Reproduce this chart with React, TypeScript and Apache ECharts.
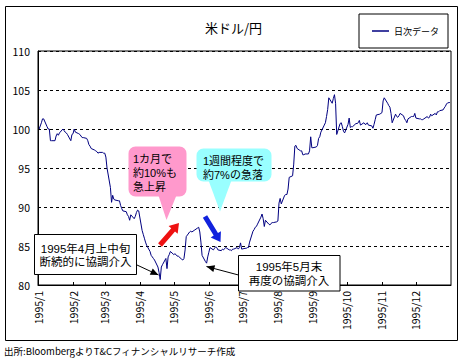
import React, { useEffect, useRef } from "react";
import * as echarts from "echarts";

// ---- data ----
const dates: string[] = [
  "1995-01-02","1995-01-04","1995-01-05","1995-01-06","1995-01-09","1995-01-10","1995-01-11","1995-01-12","1995-01-13","1995-01-16","1995-01-17","1995-01-18","1995-01-19","1995-01-20","1995-01-23","1995-01-24","1995-01-25","1995-01-26","1995-01-27","1995-01-30","1995-01-31",
  "1995-02-01","1995-02-02","1995-02-03","1995-02-06","1995-02-07","1995-02-08","1995-02-09","1995-02-10","1995-02-13","1995-02-14","1995-02-15","1995-02-16","1995-02-17","1995-02-20","1995-02-21","1995-02-22","1995-02-23","1995-02-24","1995-02-27","1995-02-28",
  "1995-03-01","1995-03-02","1995-03-03","1995-03-06","1995-03-07","1995-03-08","1995-03-09","1995-03-10","1995-03-13","1995-03-14","1995-03-15","1995-03-16","1995-03-17","1995-03-20","1995-03-21","1995-03-22","1995-03-23","1995-03-24","1995-03-27","1995-03-28","1995-03-29","1995-03-30","1995-03-31",
  "1995-04-03","1995-04-04","1995-04-05","1995-04-06","1995-04-07","1995-04-10","1995-04-11","1995-04-12","1995-04-13","1995-04-14","1995-04-17","1995-04-18","1995-04-19","1995-04-20","1995-04-21","1995-04-24","1995-04-25","1995-04-26","1995-04-27","1995-04-28",
  "1995-05-01","1995-05-02","1995-05-03","1995-05-04","1995-05-05","1995-05-08","1995-05-09","1995-05-10","1995-05-11","1995-05-12","1995-05-15","1995-05-16","1995-05-17","1995-05-18","1995-05-19","1995-05-22","1995-05-23","1995-05-24","1995-05-25","1995-05-26","1995-05-29","1995-05-30","1995-05-31",
  "1995-06-01","1995-06-02","1995-06-05","1995-06-06","1995-06-07","1995-06-08","1995-06-09","1995-06-12","1995-06-13","1995-06-14","1995-06-15","1995-06-16","1995-06-19","1995-06-20","1995-06-21","1995-06-22","1995-06-23","1995-06-26","1995-06-27","1995-06-28","1995-06-29","1995-06-30",
  "1995-07-03","1995-07-04","1995-07-05","1995-07-06","1995-07-07","1995-07-10","1995-07-11","1995-07-12","1995-07-13","1995-07-14","1995-07-17","1995-07-18","1995-07-19","1995-07-20","1995-07-21","1995-07-24","1995-07-25","1995-07-26","1995-07-27","1995-07-28","1995-07-31",
  "1995-08-01","1995-08-02","1995-08-03","1995-08-04","1995-08-07","1995-08-08","1995-08-09","1995-08-10","1995-08-11","1995-08-14","1995-08-15","1995-08-16","1995-08-17","1995-08-18","1995-08-21","1995-08-22","1995-08-23","1995-08-24","1995-08-25","1995-08-28","1995-08-29","1995-08-30","1995-08-31",
  "1995-09-01","1995-09-04","1995-09-05","1995-09-06","1995-09-07","1995-09-08","1995-09-11","1995-09-12","1995-09-13","1995-09-14","1995-09-15","1995-09-18","1995-09-19","1995-09-20","1995-09-21","1995-09-22","1995-09-25","1995-09-26","1995-09-27","1995-09-28","1995-09-29",
  "1995-10-02","1995-10-03","1995-10-04","1995-10-05","1995-10-06","1995-10-09","1995-10-10","1995-10-11","1995-10-12","1995-10-13","1995-10-16","1995-10-17","1995-10-18","1995-10-19","1995-10-20","1995-10-23","1995-10-24","1995-10-25","1995-10-26","1995-10-27","1995-10-30","1995-10-31",
  "1995-11-01","1995-11-02","1995-11-03","1995-11-06","1995-11-07","1995-11-08","1995-11-09","1995-11-10","1995-11-13","1995-11-14","1995-11-15","1995-11-16","1995-11-17","1995-11-20","1995-11-21","1995-11-22","1995-11-23","1995-11-24","1995-11-27","1995-11-28","1995-11-29","1995-11-30",
  "1995-12-01","1995-12-04","1995-12-05","1995-12-06","1995-12-07","1995-12-08","1995-12-11","1995-12-12","1995-12-13","1995-12-14","1995-12-15","1995-12-18","1995-12-19","1995-12-20","1995-12-21","1995-12-22","1995-12-25","1995-12-26","1995-12-27","1995-12-28","1995-12-29","1995-12-31",
];

const usdJpy: number[] = [
  100.0,100.8,101.3,101.3,100.3,100.0,100.0,98.5,98.5,98.5,99.1,99.4,99.2,99.5,100.0,99.8,99.6,99.5,99.3,98.5,99.3,
  99.4,100.0,99.6,99.4,99.3,99.1,98.9,98.9,98.8,98.5,98.0,97.8,97.5,97.3,97.2,97.1,96.9,97.0,97.0,96.9,
  96.9,96.4,95.0,92.5,90.6,91.5,91.0,90.9,90.8,90.8,90.2,89.8,89.5,89.4,89.0,88.8,88.3,89.0,88.5,88.8,89.3,89.6,89.5,
  87.0,86.5,86.0,85.5,85.1,84.3,83.8,83.6,83.4,83.2,82.3,81.6,80.7,82.3,82.6,83.4,82.1,83.6,83.9,84.3,
  83.9,84.0,83.9,83.7,83.7,83.3,83.2,83.4,84.5,86.2,86.8,86.9,86.8,86.9,87.0,87.3,87.4,86.8,85.5,83.8,83.0,82.8,83.6,
  84.2,84.8,84.5,84.7,84.9,84.8,84.5,84.4,84.6,84.5,84.7,84.8,84.5,84.5,84.4,84.6,84.6,84.8,84.6,84.8,85.4,84.6,
  84.7,84.7,84.8,84.8,85.5,86.9,87.1,87.4,87.5,87.8,88.7,89.1,88.5,87.5,88.3,87.8,87.7,87.9,88.0,88.0,88.1,
  88.2,90.5,91.1,90.4,91.5,91.6,91.6,92.3,93.8,94.0,95.5,97.8,97.9,97.5,97.2,97.2,96.7,96.7,96.8,96.8,97.2,99.0,97.6,
  97.6,97.7,97.9,98.8,99.0,99.6,100.5,100.8,101.6,102.5,104.0,103.3,103.9,104.4,103.3,99.3,100.7,100.8,100.3,99.7,99.5,
  100.6,101.4,100.2,100.3,100.3,100.7,100.7,100.8,101.1,100.5,100.8,100.6,100.6,100.8,100.5,100.4,100.1,100.6,101.2,101.8,101.9,102.0,
  102.1,103.6,104.0,103.3,103.0,102.8,102.0,100.8,101.9,101.6,101.5,101.7,102.0,101.7,101.3,101.1,100.8,101.3,101.6,101.6,101.6,102.0,
  101.4,101.3,101.3,101.2,101.2,101.3,101.6,101.4,101.5,101.9,101.7,102.0,101.8,102.2,102.2,102.35,102.45,102.7,102.9,103.2,103.35,103.4,
];

const monthTicks: string[] = [
  "1995-01-01","1995-02-01","1995-03-01","1995-04-01","1995-05-01","1995-06-01",
  "1995-07-01","1995-08-01","1995-09-01","1995-10-01","1995-11-01","1995-12-01",
];
const yTicks: number[] = [80, 85, 90, 95, 100, 105, 110];

const seriesName = "日次データ";
const titleText = "米ドル/円";
const sourceText = "出所:BloombergよりT&Cフィナンシャルリサーチ作成";
const note1Lines: string[] = ["1カ月で", "約10%も", "急上昇"];
const note2Lines: string[] = ["1週間程度で", "約7%の急落"];
const box1Lines: string[] = ["1995年4月上中旬", "断続的に協調介入"];
const box2Lines: string[] = ["1995年5月末", "再度の協調介入"];

const FONT = '"Noto Sans CJK JP", "Noto Sans", sans-serif';
const NOTE_FONT = '"Liberation Sans", "Noto Sans CJK JP", sans-serif';

function ts(s: string): number {
  const [y, m, d] = s.split("-").map(Number);
  return new Date(y, m - 1, d).getTime();
}

function arrowPts(x1: number, y1: number, x2: number, y2: number, sw: number, hw: number, hl: number): number[][] {
  const dx = x2 - x1, dy = y2 - y1;
  const L = Math.sqrt(dx * dx + dy * dy);
  const ux = dx / L, uy = dy / L;
  const px = -uy, py = ux;
  const bx = x2 - ux * hl, by = y2 - uy * hl;
  return [
    [x1 + px * sw / 2, y1 + py * sw / 2],
    [bx + px * sw / 2, by + py * sw / 2],
    [bx + px * hw / 2, by + py * hw / 2],
    [x2, y2],
    [bx - px * hw / 2, by - py * hw / 2],
    [bx - px * sw / 2, by - py * sw / 2],
    [x1 - px * sw / 2, y1 - py * sw / 2],
  ];
}

function lineArrow(x1: number, y1: number, x2: number, y2: number): any[] {
  const head = arrowPts(x1, y1, x2, y2, 0, 7, 8);
  return [
    { type: "line", shape: { x1, y1, x2, y2 }, style: { stroke: "#000", lineWidth: 1 }, z: 100, silent: true },
    { type: "polygon", shape: { points: head.slice(2, 5) }, style: { fill: "#000" }, z: 101, silent: true },
  ];
}

function textLines(lines: string[], x: number, y0: number, gap: number, size: number, align: string): any[] {
  return lines.map((t, i) => ({
    type: "text",
    x,
    y: y0 + i * gap,
    style: { text: t, fill: "#000", fontSize: size, fontFamily: NOTE_FONT, align, verticalAlign: "middle", lineHeight: gap - 1 },
    z: 102,
    silent: true,
  }));
}

export default function App() {
  const ref = useRef<HTMLDivElement>(null);
  useEffect(() => {
    if (!ref.current) return;
    const chart = echarts.init(ref.current, null, { renderer: "svg" });
    const data = dates.map((d, i) => [ts(d), usdJpy[i]]);
    const tickVals = monthTicks.map(ts);

    const graphics: any[] = [
      { type: "rect", shape: { x: 5.5, y: 6.5, width: 452, height: 334 }, style: { fill: "none", stroke: "#000", lineWidth: 1 }, z: 100, silent: true },
      { type: "text", x: 4, y: 351, style: { text: sourceText, fill: "#000", fontSize: 9.5, fontFamily: FONT, verticalAlign: "middle" }, z: 100, silent: true },
      // pink callout
      { type: "polygon", shape: { points: [[158, 194], [177, 194], [166.5, 220]] }, style: { fill: "#FF99CC" }, z: 100, silent: true },
      { type: "rect", shape: { x: 128.5, y: 146.5, width: 58, height: 50, r: 7 }, style: { fill: "#FF99CC" }, z: 100, silent: true },
      ...textLines(note1Lines, 133, 158.5, 14.2, 11, "left"),
      // cyan callout
      { type: "polygon", shape: { points: [[208, 179], [232, 179], [220, 211.5]] }, style: { fill: "#99FFFF" }, z: 100, silent: true },
      { type: "rect", shape: { x: 196.5, y: 148.5, width: 75, height: 33, r: 7 }, style: { fill: "#99FFFF" }, z: 100, silent: true },
      ...textLines(note2Lines, 203, 160.7, 14.3, 11, "left"),
      // red / blue arrows
      { type: "polygon", shape: { points: arrowPts(160, 245, 179, 223, 5, 12, 9) }, style: { fill: "#EE1111" }, z: 100, silent: true },
      { type: "polygon", shape: { points: arrowPts(205, 216.5, 220.5, 242, 5, 12, 9) }, style: { fill: "#1122DD" }, z: 100, silent: true },
      // box 1
      { type: "rect", shape: { x: 34.5, y: 234.5, width: 102, height: 40 }, style: { fill: "#fff", stroke: "#000", lineWidth: 1 }, z: 100, silent: true },
      ...textLines(box1Lines, 85.5, 248.5, 13.8, 11.5, "center"),
      ...lineArrow(137, 265, 158.5, 275),
      // box 2
      { type: "rect", shape: { x: 238.5, y: 255.5, width: 101.5, height: 35.5 }, style: { fill: "#fff", stroke: "#000", lineWidth: 1 }, z: 100, silent: true },
      ...textLines(box2Lines, 289, 266.5, 14, 11.5, "center"),
      ...lineArrow(238.5, 275, 206.5, 266.5),
    ];

    chart.setOption({
      animation: false,
      textStyle: { fontFamily: FONT },
      title: {
        text: titleText,
        left: 200,
        top: 16,
        textStyle: { fontSize: 13, fontWeight: "normal", color: "#000", fontFamily: FONT },
      },
      legend: {
        left: 359,
        top: 14,
        padding: [10, 9, 10, 13],
        borderColor: "#000",
        borderWidth: 1,
        itemWidth: 17,
        itemHeight: 1.5,
        icon: "rect",
        data: [seriesName],
        textStyle: { fontSize: 9, color: "#000", fontFamily: FONT, lineHeight: 14 },
      },
      grid: {
        left: 38,
        top: 51,
        right: 14,
        bottom: 79,
        containLabel: false,
        show: true,
        borderColor: "#000",
        borderWidth: 1,
      },
      xAxis: {
        type: "value",
        min: ts("1995-01-01"),
        max: ts("1996-01-01"),
        axisLine: { show: true, lineStyle: { color: "#000", width: 1 } },
        axisTick: { show: true, inside: true, length: 3, customValues: tickVals, lineStyle: { color: "#000" } },
        axisLabel: {
          customValues: tickVals,
          rotate: 90,
          margin: 6,
          fontSize: 10.5,
          color: "#000",
          fontFamily: FONT,
          formatter: (v: number) => {
            const d = new Date(v);
            return d.getFullYear() + "/" + (d.getMonth() + 1);
          },
        },
        splitLine: { show: false },
      },
      yAxis: {
        type: "value",
        min: yTicks[0],
        max: yTicks[yTicks.length - 1],
        interval: 5,
        axisLine: { show: true, lineStyle: { color: "#000", width: 1 } },
        axisTick: { show: false },
        axisLabel: { fontSize: 10.5, color: "#000", margin: 8, fontFamily: FONT },
        splitLine: { show: true, lineStyle: { color: "#000", type: [3, 3], width: 1 } },
      },
      series: [
        {
          name: seriesName,
          type: "line",
          data,
          symbol: "none",
          showSymbol: false,
          lineStyle: { color: "#000080", width: 1 },
          itemStyle: { color: "#000080" },
          z: 2,
        },
      ],
      graphic: graphics,
    });
    return () => chart.dispose();
  }, []);
  return <div ref={ref} style={{ position: "absolute", left: 0, top: 0, width: 465, height: 364, background: "#fff" }} />;
}
